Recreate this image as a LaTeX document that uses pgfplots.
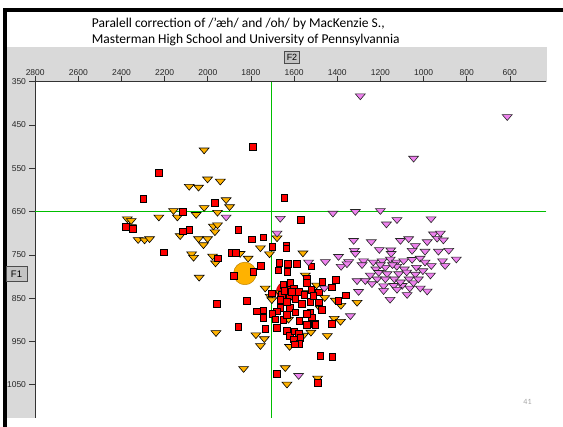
\documentclass[border=0pt]{standalone}
\usepackage{fontspec}
\setmainfont{Carlito}
\newfontfamily\tickfont{Liberation Sans}
\usepackage{pgfplots}
\pgfplotsset{compat=1.18}

\definecolor{panelgray}{RGB}{217,217,217}
\definecolor{boxgray}{RGB}{196,196,196}
\definecolor{crossgreen}{RGB}{0,190,0}
\definecolor{aehorange}{RGB}{255,178,0}
\definecolor{ohviolet}{RGB}{238,130,238}
\definecolor{pgnum}{RGB}{166,166,166}

% F2 / F1 measurements (Hz), one table per vowel class
\pgfplotstableread{
F2 F1
2017 510
2001 577
1942 582
2086 594
2043 596
1915 625
1899 641
2017 643
2159 650
2141 665
1955 654
2054 659
2227 665
2373 669
2355 673
2355 687
1974 686
1955 683
1967 699
2128 708
2323 717
2293 718
2270 715
2043 715
2001 715
2020 729
2075 750
2066 758
1978 755
1964 771
1850 749
1813 760
1756 736
1714 750
1679 713
1559 748
2040 804
1734 829
1711 848
1703 856
1664 840
1621 837
1548 839
1496 822
1458 851
1409 857
1383 869
1308 862
1478 876
1962 932
1777 937
1738 946
1756 962
1621 964
1556 938
1522 931
1446 939
1414 899
1385 906
1626 901
1834 1015
1641 1013
1633 1051
1491 1037
1548 799
}\aehtable

\pgfplotstableread{
F2 F1
1791 501
2226 561
2298 621
1967 630
1646 619
2117 651
1568 669
2380 685
2348 690
2117 696
2086 692
1859 692
1795 714
1742 710
1636 729
1636 735
1700 732
2204 744
1888 746
1870 746
1954 758
1754 775
1878 798
1788 790
1669 769
1673 786
1628 771
1587 771
1632 789
1540 804
1540 815
1520 777
1406 808
1469 812
1618 815
1649 819
1602 827
1579 835
1520 831
1486 837
1424 825
1703 839
1656 842
1621 846
1595 852
1525 858
1486 860
1563 863
1361 844
1395 856
1819 856
1656 860
1664 873
1621 872
1679 881
1595 883
1772 881
1742 878
1700 886
1742 896
1687 899
1649 900
1575 902
1525 883
1517 894
1540 886
1505 909
1540 912
1471 877
1424 909
1679 919
1734 921
1633 925
1621 937
1599 927
1579 931
1602 945
1571 942
1575 956
1597 957
1858 916
1958 863
1478 984
1422 986
1681 1025
1490 1046
1502 912
1633 858
1553 842
1510 845
1633 889
1646 833
1610 835
1664 854
}\corrtable

\pgfplotstableread{
F2 F1
1293 385
612 433
1046 529
1915 665
1664 668
1679 702
1533 769
1420 656
1316 652
1200 650
1172 681
1123 671
965 669
1324 719
1242 722
1107 719
1069 715
1038 731
983 722
954 704
922 702
937 714
908 718
1321 742
1316 749
1205 740
1152 741
1150 749
1053 742
993 744
931 744
883 742
1455 768
1394 756
1347 768
1382 779
1278 766
1285 775
1233 769
1192 766
1154 762
1126 769
1092 766
1053 763
1016 760
993 769
964 777
912 766
900 777
848 762
1221 785
1177 781
1124 779
1089 785
1033 781
1003 789
1208 793
1169 796
1115 796
1078 792
1038 797
968 799
1215 808
1177 808
1135 808
1067 808
1308 812
1270 812
1239 819
1185 824
1138 823
1099 823
1064 829
1015 829
983 836
1301 837
1185 835
1123 832
1076 844
1155 855
1339 893
1355 773
1460 829
1579 1031
1144 775
1107 815
1047 817
1200 775
1247 799
1024 808
}\ohtable

\begin{document}
\begin{tikzpicture}
\useasboundingbox (0pt,0pt) rectangle (563pt,-427pt);

% window panel and plotting field
\fill[panelgray] (6.5pt,-47pt) rectangle (546.5pt,-418pt);
\fill[white] (35pt,-81.7pt) rectangle (546.5pt,-418pt);

% slide frame
\draw[black, line width=3.4pt, line cap=rect] (4.8pt,-427pt) -- (4.8pt,-10pt) -- (563pt,-10pt);

% title
\node[anchor=base west, inner sep=0, font=\fontsize{13.5}{16}\selectfont] at (91.7pt,-27.8pt)
  {Paralell correction of /’æh/ and /oh/ by MacKenzie S.,};
\node[anchor=base west, inner sep=0, font=\fontsize{13.5}{16}\selectfont] at (91.7pt,-43.5pt)
  {Masterman High School and University of Pennsylvannia};

\begin{axis}[
  at={(35pt,-81.7pt)}, anchor=north west,
  scale only axis, width=511.5pt, height=336.3pt,
  xmin=430, xmax=2801, ymin=350, ymax=1127,
  x dir=reverse, y dir=reverse,
  separate axis lines,
  axis x line*=top, axis y line*=left,
  axis line style={black!80, line width=0.7pt},
  xtick={2800,2600,...,400}, ytick={350,450,...,1050},
  tick align=outside, major tick length=5.5pt,
  tick style={black!80, line width=0.6pt},
  /pgf/number format/1000 sep={},
  /pgf/number format/assume math mode=true,
  ticklabel style={font=\tickfont\fontsize{8.5}{9}\selectfont, text=black!85},
  xticklabel style={yshift=-2.5pt},
  clip=true,
]
% cursor crosshair at F2 = 1704 Hz, F1 = 650 Hz
\draw[crossgreen, line width=1pt] (axis cs:1704,350) -- (axis cs:1704,1127);
\draw[crossgreen, line width=1pt] (axis cs:430,650) -- (axis cs:2801,650);

% class means
\addplot[only marks, mark=*, mark size=11.3pt,
  mark options={fill=aehorange, draw=aehorange!75!black, line width=0.5pt}]
  coordinates {(1828,793)};
\addplot[only marks, mark=*, mark size=10pt,
  mark options={fill=red, draw=red!70!black, line width=0.5pt}]
  coordinates {(1636,835)};
\node[font=\tickfont\fontsize{6}{6}\selectfont] at (axis cs:1828,793) {æh};

% tokens
\addplot[only marks, mark=triangle*, mark size=5.7pt,
  mark options={yshift=1pt, yscale=-0.68, fill=aehorange, draw=black, line width=0.6pt}]
  table[x=F2, y=F1] {\aehtable};
\addplot[only marks, mark=square*, mark size=3.3pt,
  mark options={fill=red, draw=black, line width=0.7pt}]
  table[x=F2, y=F1] {\corrtable};
\addplot[only marks, mark=triangle*, mark size=5.7pt,
  mark options={yshift=1pt, yscale=-0.68, fill=ohviolet, draw=black!85, line width=0.6pt}]
  table[x=F2, y=F1] {\ohtable};
\end{axis}

% the window edge cuts the last F2 label
\fill[white] (546.5pt,-45pt) rectangle (563pt,-95pt);

% axis name boxes
\node[draw=black!70, fill=boxgray, line width=0.6pt, minimum width=15pt, minimum height=11.8pt,
  inner sep=0, font=\tickfont\fontsize{9}{9}\selectfont] at (292pt,-57.4pt) {F2};
\node[draw=black!70, fill=boxgray, line width=0.6pt, minimum width=21pt, minimum height=15pt,
  inner sep=0, font=\tickfont\fontsize{9.5}{9.5}\selectfont] at (16.5pt,-274pt) {F1};

% slide number
\node[font=\fontsize{8}{8}\selectfont, text=pgnum] at (527.5pt,-401.5pt) {41};
\end{tikzpicture}
\end{document}
